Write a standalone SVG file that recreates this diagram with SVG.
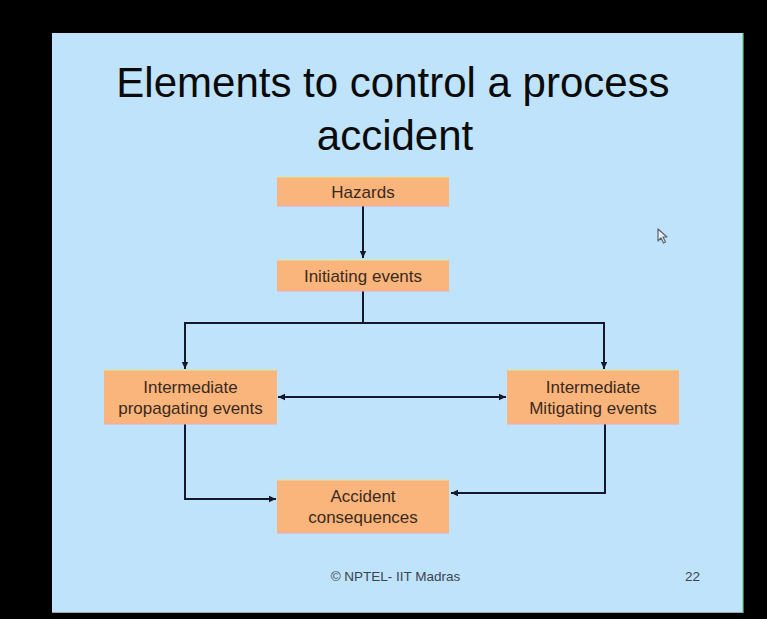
<svg xmlns="http://www.w3.org/2000/svg" width="767" height="619" viewBox="0 0 767 619">
  <style>
    .box { fill: #FAB57D; }
    .edgeTop { stroke: #D9E89C; stroke-width: 1.2; }
    .edgeBot { stroke: #F3A6B4; stroke-width: 1.2; }
    .lbl { font-family: "Liberation Sans", Arial, sans-serif; font-size: 17px; fill: #3A2A1C; text-anchor: middle; }
    .title { font-family: "Liberation Sans", Arial, sans-serif; font-size: 42px; fill: #0A0A0A; text-anchor: middle; }
    .foot { font-family: "Liberation Sans", Arial, sans-serif; font-size: 13.5px; fill: #3C4452; }
    .conn { fill: none; stroke: #15182A; stroke-width: 2; }
  </style>
  <defs>
    <marker id="ah" markerUnits="userSpaceOnUse" markerWidth="8" markerHeight="8" viewBox="0 0 8 8" refX="7" refY="4" orient="auto-start-reverse">
      <path d="M0,0.8 L7,4 L0,7.2 Z" fill="#15182A"/>
    </marker>
  </defs>

  <rect x="0" y="0" width="767" height="619" fill="#000000"/>
  <g id="slide">
    <rect x="52" y="33" width="691" height="580" fill="#BEE3FA"/>
    <line x1="743" y1="33" x2="743" y2="613" stroke="#6FCB7A" stroke-width="1.2"/>
    <line x1="52" y1="612.5" x2="743" y2="612.5" stroke="#9AA6B0" stroke-width="1"/>
  </g>

  <g id="title">
    <text class="title" x="393" y="97">Elements to control a process</text>
    <text class="title" x="395" y="150">accident</text>
  </g>

  <g id="connectors">
    <path class="conn" d="M363,206 V258" marker-end="url(#ah)"/>
    <path class="conn" d="M363,291 V323 H185 V369" marker-end="url(#ah)"/>
    <path class="conn" d="M363,323 H604 V369" marker-end="url(#ah)"/>
    <path class="conn" d="M278,397 H506" marker-start="url(#ah)" marker-end="url(#ah)"/>
    <path class="conn" d="M185,424 V499 H276" marker-end="url(#ah)"/>
    <path class="conn" d="M605,424 V493 H451" marker-end="url(#ah)"/>
  </g>

  <g id="hazards">
    <rect class="box" x="277" y="177" width="172" height="29"/>
    <line class="edgeTop" x1="277" y1="177" x2="449" y2="177"/>
    <line class="edgeBot" x1="277" y1="206" x2="449" y2="206"/>
    <text class="lbl" x="363" y="198">Hazards</text>
  </g>

  <g id="initiating">
    <rect class="box" x="277" y="260" width="172" height="31"/>
    <line class="edgeTop" x1="277" y1="260" x2="449" y2="260"/>
    <line class="edgeBot" x1="277" y1="291" x2="449" y2="291"/>
    <text class="lbl" x="363" y="282">Initiating events</text>
  </g>

  <g id="propagating">
    <rect class="box" x="104" y="370" width="173" height="54"/>
    <line class="edgeTop" x1="104" y1="370" x2="277" y2="370"/>
    <line class="edgeBot" x1="104" y1="424" x2="277" y2="424"/>
    <text class="lbl" x="190.5" y="393">Intermediate</text>
    <text class="lbl" x="190.5" y="414">propagating events</text>
  </g>

  <g id="mitigating">
    <rect class="box" x="507" y="370" width="172" height="54"/>
    <line class="edgeTop" x1="507" y1="370" x2="679" y2="370"/>
    <line class="edgeBot" x1="507" y1="424" x2="679" y2="424"/>
    <text class="lbl" x="593" y="393">Intermediate</text>
    <text class="lbl" x="593" y="414">Mitigating events</text>
  </g>

  <g id="consequences">
    <rect class="box" x="277" y="480" width="172" height="53"/>
    <line class="edgeTop" x1="277" y1="480" x2="449" y2="480"/>
    <line class="edgeBot" x1="277" y1="533" x2="449" y2="533"/>
    <text class="lbl" x="363" y="502">Accident</text>
    <text class="lbl" x="363" y="523">consequences</text>
  </g>

  <g id="footer">
    <text class="foot" x="395.5" y="581" text-anchor="middle">© NPTEL- IIT Madras</text>
    <text class="foot" x="685" y="581">22</text>
  </g>

  <g id="cursor">
    <path d="M658,229 L658,241 L661,238 L663.5,243 L665.5,242 L663,237 L667,237 Z" fill="#E8EEF4" stroke="#5A6470" stroke-width="1.2" stroke-linejoin="round"/>
  </g>
</svg>
